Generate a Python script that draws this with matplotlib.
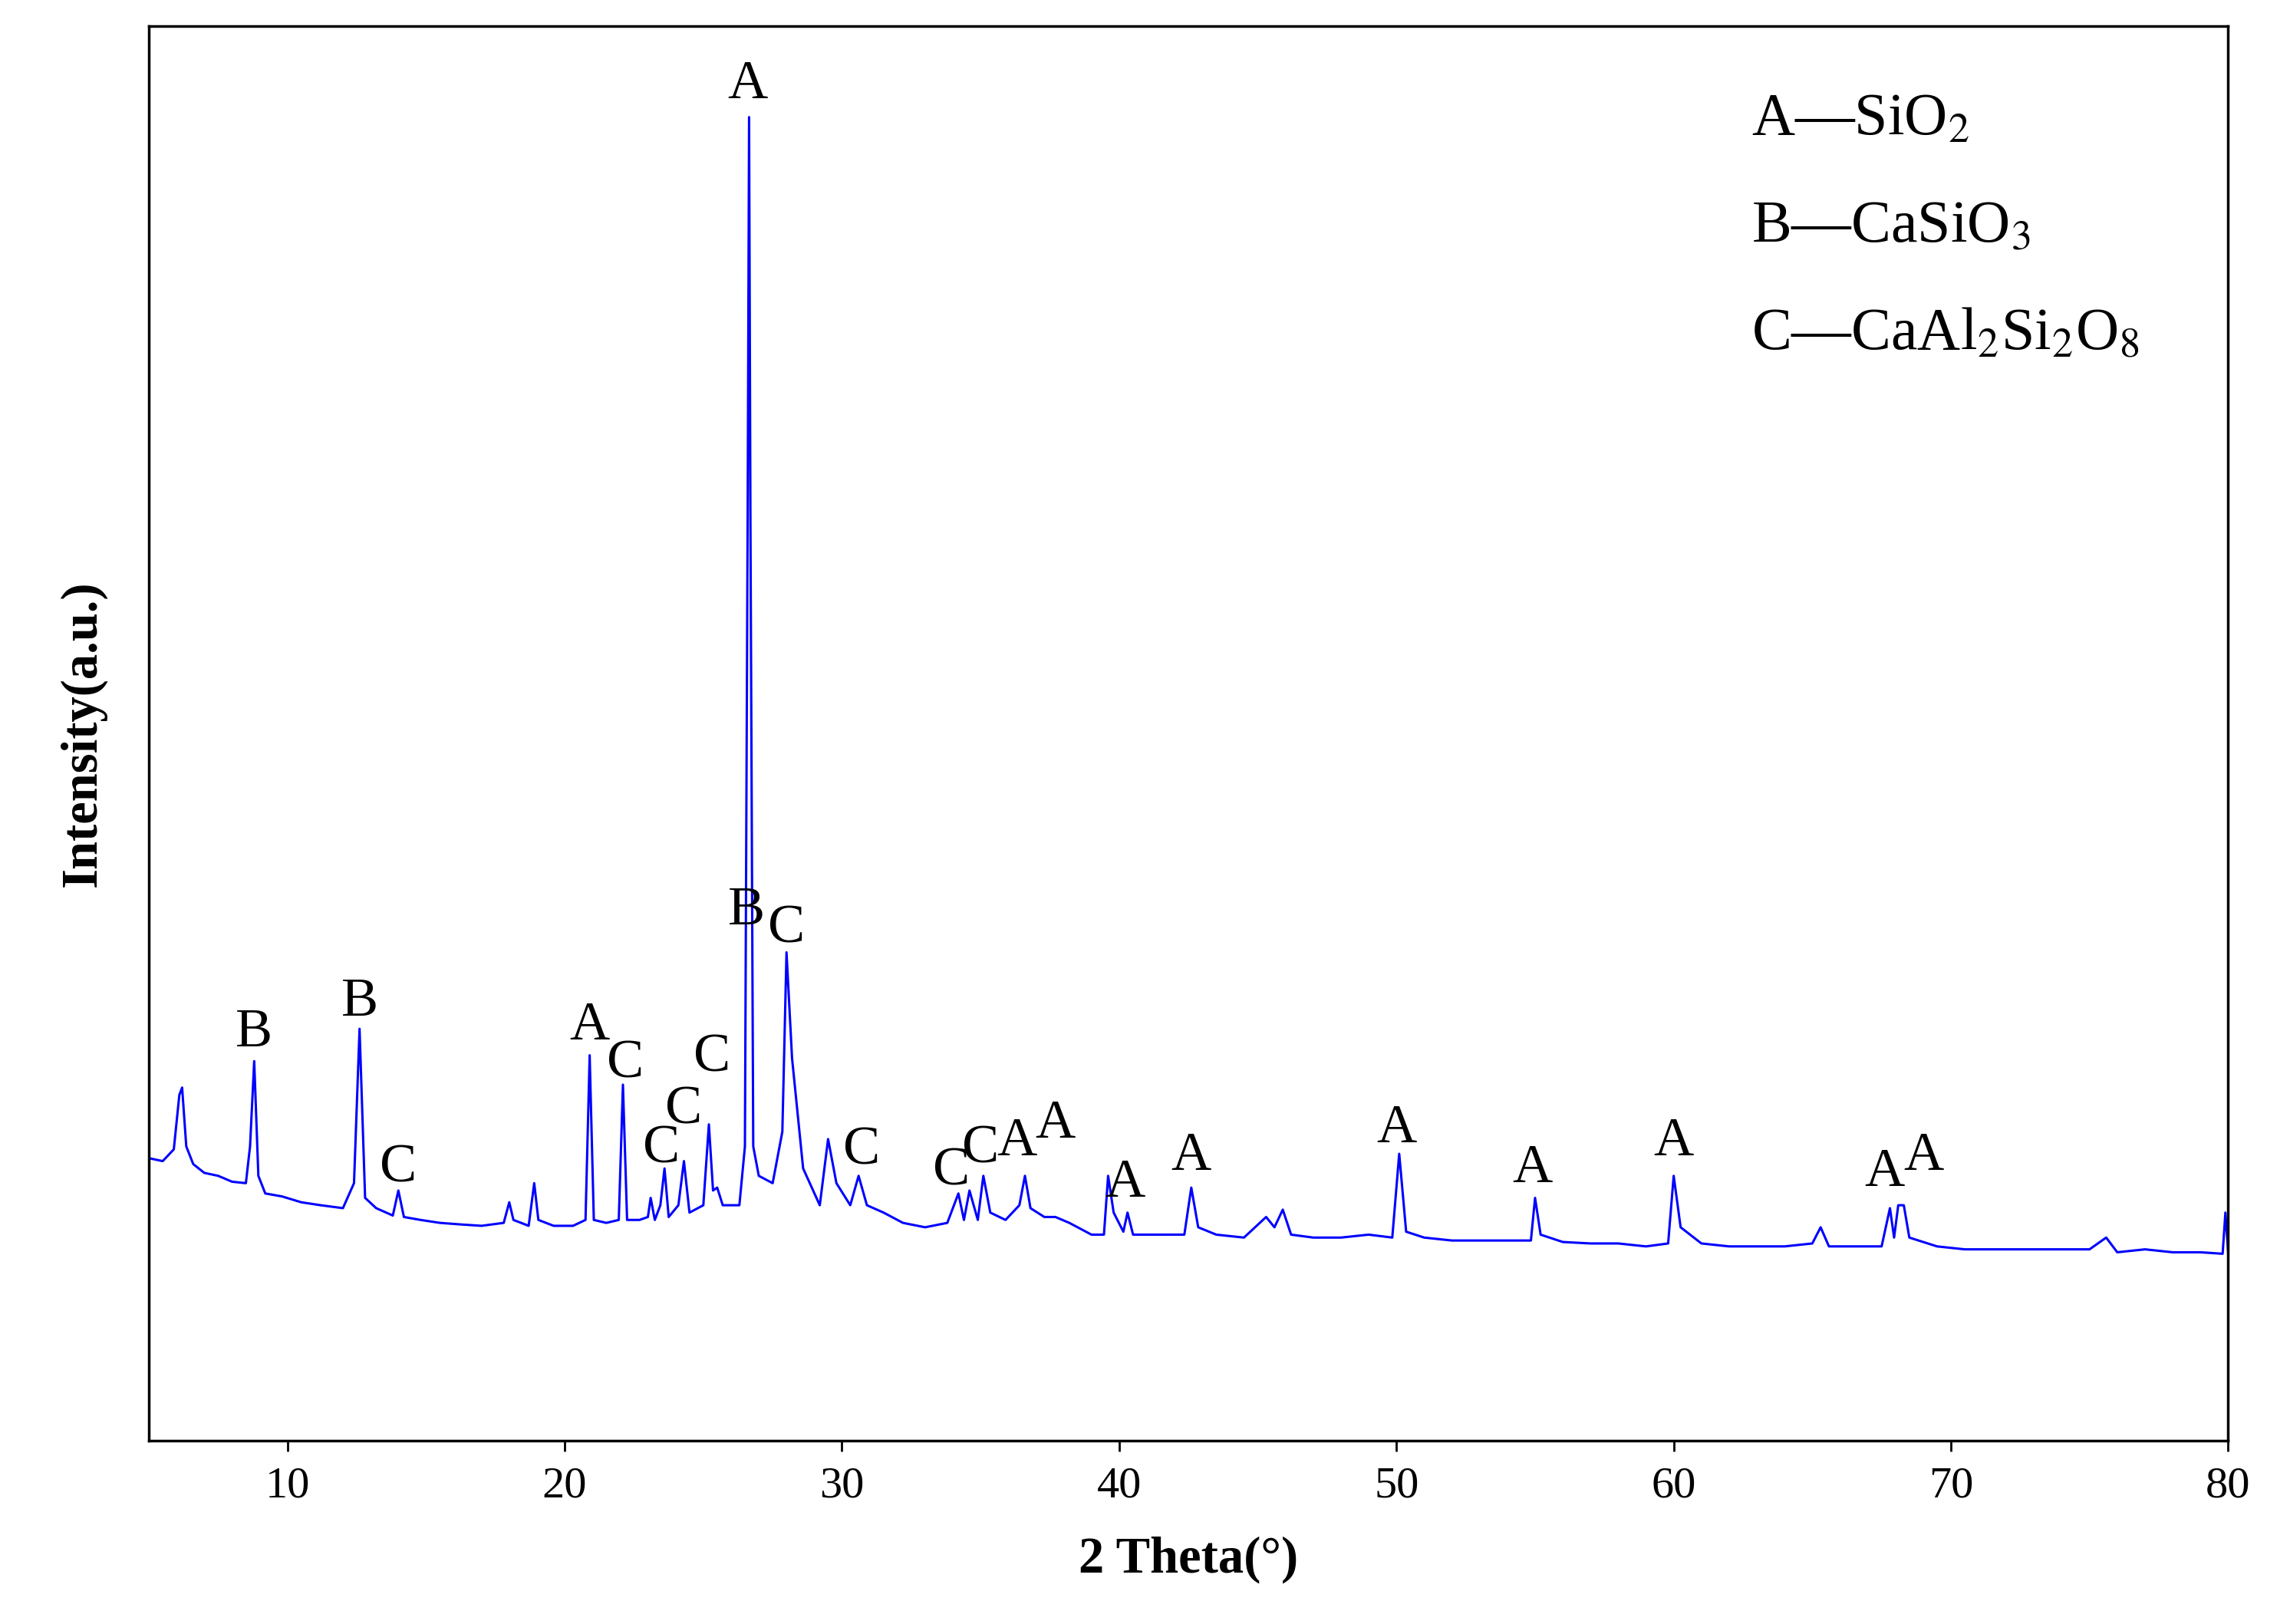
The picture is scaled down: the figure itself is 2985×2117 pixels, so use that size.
import matplotlib
matplotlib.use("Agg")
import matplotlib.pyplot as plt

# (2-theta, intensity) points
pattern = [
(5.0,192),(5.5,190),(5.9,198),(6.1,235),(6.2,240),(6.35,200),(6.6,188),(7.0,182),(7.5,180),(8.0,176),
(8.5,175),(8.65,200),(8.8,258),(8.95,180),(9.2,168),(9.8,166),(10.5,162),(11.2,160),(12.0,158),(12.4,175),
(12.6,280),(12.8,165),(13.2,158),(13.8,153),(14.0,170),(14.2,152),(14.8,150),(15.5,148),(16.2,147),(17.0,146),
(17.8,148),(18.0,162),(18.15,150),(18.7,146),(18.9,175),(19.05,150),(19.6,146),(20.3,146),(20.75,150),(20.9,262),
(21.05,150),(21.5,148),(21.95,150),(22.1,242),(22.25,150),(22.7,150),(23.0,152),(23.1,165),(23.25,150),(23.45,160),
(23.6,185),(23.75,152),(24.1,160),(24.3,190),(24.5,155),(25.0,160),(25.2,215),(25.35,170),(25.5,172),(25.7,160),
(26.3,160),(26.5,200),(26.6,635),(26.65,900),(26.7,620),(26.8,200),(27.0,180),(27.5,175),(27.85,210),(28.0,332),
(28.2,260),(28.6,185),(29.2,160),(29.5,205),(29.8,175),(30.3,160),(30.6,180),(30.9,160),(31.5,155),(32.2,148),
(33.0,145),(33.8,148),(34.2,168),(34.4,150),(34.6,170),(34.9,150),(35.1,180),(35.35,155),(35.9,150),(36.4,160),
(36.6,180),(36.8,158),(37.3,152),(37.7,152),(38.2,148),(39.0,140),(39.45,140),(39.6,180),(39.8,155),(40.15,142),
(40.3,155),(40.5,140),(41.2,140),(42.35,140),(42.6,172),(42.85,145),(43.5,140),(44.5,138),(45.3,152),(45.6,145),
(45.9,157),(46.2,140),(47.0,138),(48.0,138),(49.0,140),(49.85,138),(50.1,195),(50.35,142),(51.0,138),(52.0,136),
(53.0,136),(54.0,136),(54.85,136),(55.0,165),(55.2,140),(56.0,135),(57.0,134),(58.0,134),(59.0,132),(59.8,134),
(60.0,180),(60.25,145),(61.0,134),(62.0,132),(63.0,132),(64.0,132),(65.0,134),(65.3,145),(65.6,132),(66.5,132),
(67.5,132),(67.8,158),(67.95,138),(68.1,160),(68.3,160),(68.5,138),(69.5,132),(70.5,130),(72.0,130),(73.5,130),
(75.0,130),(75.6,138),(76.0,128),(77.0,130),(78.0,128),(79.0,128),(79.8,127),(79.9,155),(80.0,128)]
two_theta = [p[0] for p in pattern]
intensity = [p[1] for p in pattern]

peak_labels = ["A","B","C","B","B","C","A","C","C","C","C","C","C","C","A","A","A","A","A","A","A","A","A"]
label_x = [26.6,26.56,28.0,8.8,12.6,14.0,20.9,22.2,23.5,24.3,25.3,30.7,33.95,35.0,36.3,37.7,40.2,42.6,50.0,54.9,60.0,67.6,69.0]
label_y = [922,360,348,277,298,185,282,256,198,225,260,197,183,198,203,215,175,193,212,185,203,182,193]
legend_lines = [r"A—SiO$_2$", r"B—CaSiO$_3$", r"C—CaAl$_2$Si$_2$O$_8$"]
legend_y = [898, 825, 752]

plt.rcParams['font.family'] = ['Liberation Serif', 'DejaVu Serif']
plt.rcParams['mathtext.fontset'] = 'stix'
fig = plt.figure(figsize=(29.85, 21.17), dpi=100)
ax = fig.add_axes([0.065, 0.113, 0.908, 0.871])
ax.plot(two_theta, intensity, color='#0000ff', lw=2.2)
ax.set_xlim(5, 80)
ax.set_ylim(0, 962)
ax.set_yticks([])
ax.set_xticks([10,20,30,40,50,60,70,80])
ax.tick_params(axis='x', labelsize=42, length=10, width=2, direction='out', pad=14)
for s in ax.spines.values():
    s.set_linewidth(2.5)
for t, x, y in zip(peak_labels, label_x, label_y):
    ax.text(x, y, t, fontsize=52, ha='center', va='center')
for t, y in zip(legend_lines, legend_y):
    ax.text(62.8, y, t, fontsize=56, ha='left', va='center')
ax.set_xlabel("2 Theta(°)", fontsize=48, fontweight='bold', labelpad=28)
ax.set_ylabel("Intensity(a.u.)", fontsize=48, fontweight='bold', labelpad=40)
fig.savefig("out.png", dpi=100)
